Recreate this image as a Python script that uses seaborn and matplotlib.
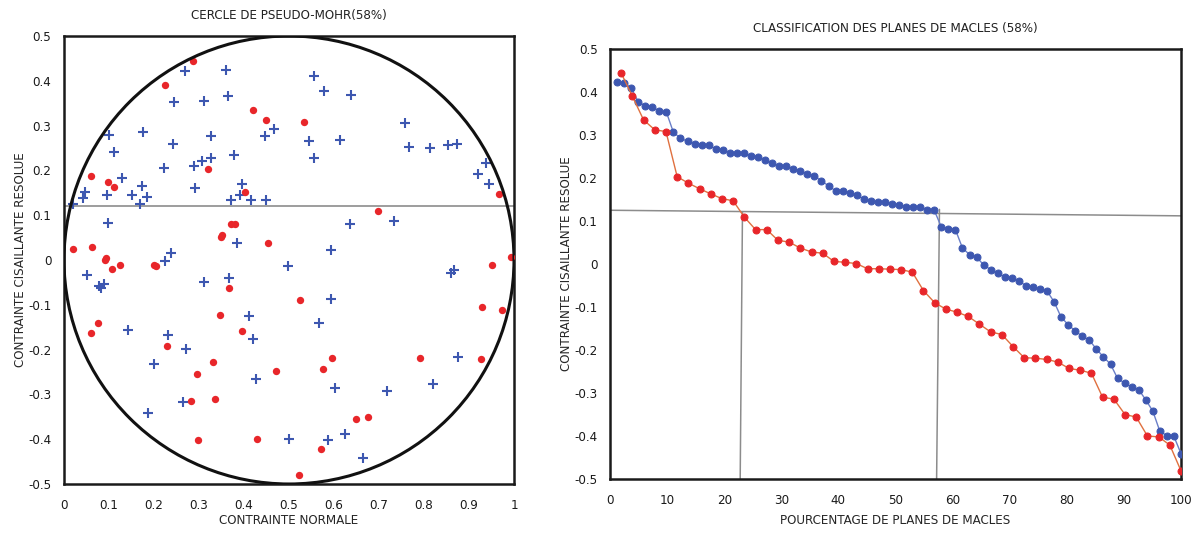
import numpy as np
import pandas as pd
import matplotlib.pyplot as plt
import seaborn as sns
from matplotlib.patches import Circle
from matplotlib.ticker import MultipleLocator, FuncFormatter


# plans maclés (points rouges) : contrainte normale / contrainte cisaillante résolue
red_sn = [0.287, 0.225, 0.419, 0.448, 0.533, 0.320, 0.061, 0.098, 0.112, 0.403,
          0.967, 0.697, 0.372, 0.379, 0.349, 0.352, 0.454, 0.063, 0.021, 0.993,
          0.093, 0.091, 0.125, 0.950, 0.204, 0.200, 0.107, 0.367, 0.524, 0.928,
          0.973, 0.347, 0.076, 0.395, 0.061, 0.228, 0.596, 0.792, 0.927, 0.330,
          0.576, 0.470, 0.296, 0.336, 0.282, 0.676, 0.649, 0.429, 0.298, 0.571,
          0.522]
red_tau = [0.444, 0.390, 0.335, 0.312, 0.308, 0.203, 0.188, 0.175, 0.163, 0.152,
           0.147, 0.109, 0.080, 0.080, 0.051, 0.055, 0.037, 0.028, 0.025, 0.006,
           0.004, 0.001, -0.011, -0.012, -0.013, -0.011, -0.019, -0.062, -0.090, -0.105,
           -0.112, -0.122, -0.140, -0.158, -0.164, -0.192, -0.218, -0.219, -0.222, -0.228,
           -0.243, -0.247, -0.254, -0.310, -0.314, -0.350, -0.356, -0.400, -0.402, -0.421,
           -0.481]

# plans non maclés (croix bleues)
blue_sn = [0.269, 0.361, 0.244, 0.310, 0.364, 0.100, 0.176, 0.327, 0.467, 0.446,
           0.242, 0.110, 0.377, 0.223, 0.289, 0.307, 0.327, 0.129, 0.173, 0.291,
           0.396, 0.391, 0.047, 0.042, 0.096, 0.150, 0.185, 0.169, 0.371, 0.415,
           0.448, 0.021, 0.098, 0.384, 0.238, 0.225, 0.497, 0.556, 0.577, 0.637,
           0.545, 0.613, 0.555, 0.758, 0.767, 0.813, 0.854, 0.873, 0.937, 0.921,
           0.945, 0.635, 0.733, 0.593, 0.050, 0.078, 0.088, 0.082, 0.310, 0.367,
           0.412, 0.419, 0.142, 0.230, 0.270, 0.201, 0.426, 0.264, 0.186, 0.861,
           0.866, 0.593, 0.566, 0.875, 0.603, 0.717, 0.819, 0.501, 0.587, 0.625,
           0.664]
blue_tau = [0.421, 0.423, 0.353, 0.355, 0.366, 0.280, 0.285, 0.277, 0.293, 0.277,
            0.259, 0.241, 0.234, 0.205, 0.209, 0.221, 0.228, 0.182, 0.166, 0.160,
            0.169, 0.145, 0.151, 0.138, 0.146, 0.144, 0.140, 0.126, 0.133, 0.133,
            0.133, 0.125, 0.082, 0.037, 0.016, -0.002, -0.013, 0.410, 0.377, 0.368,
            0.266, 0.267, 0.228, 0.306, 0.252, 0.249, 0.257, 0.259, 0.217, 0.193,
            0.170, 0.080, 0.086, 0.022, -0.033, -0.058, -0.054, -0.063, -0.050, -0.040,
            -0.124, -0.177, -0.156, -0.168, -0.198, -0.233, -0.266, -0.316, -0.342, -0.030,
            -0.022, -0.088, -0.141, -0.216, -0.286, -0.292, -0.277, -0.399, -0.401, -0.389,
            -0.441]

seuil_tau = 0.121

RED = "#e8262a"
BLUE = "#3d57b0"


def classement(tau):
    # contraintes triées + pourcentage cumulé de plans
    t = np.sort(np.array(tau))[::-1]
    n = len(t)
    return pd.DataFrame({"pct": np.arange(1, n + 1) * 100.0 / n, "tau": t})


def deco(ax):
    for s in ax.spines.values():
        s.set_linewidth(1.8)
        s.set_color("#1a1a1a")
    ax.tick_params(which="both", direction="out", width=1.5, colors="#1a1a1a",
                   labelsize=9.5, top=False, right=False)
    ax.tick_params(which="major", length=6, pad=3)
    ax.tick_params(which="minor", length=3.5)
    ax.tick_params(axis="x", which="major", pad=5)
    fmt = FuncFormatter(lambda v, p: "0" if abs(v) < 1e-9 else f"{v:g}")
    ax.xaxis.set_major_formatter(fmt)
    ax.yaxis.set_major_formatter(fmt)


sns.set_style("white")
plt.rcParams["font.family"] = ["DejaVu Sans"]
plt.rcParams["font.stretch"] = "condensed"
plt.rcParams["text.color"] = "#222222"

fig = plt.figure(figsize=(11.95, 5.33), dpi=100)
ax1 = fig.add_axes([64 / 1195, 49 / 533, 450 / 1195, 448 / 533])
ax2 = fig.add_axes([610 / 1195, 54 / 533, 571 / 1195, 430 / 533])

# cercle de pseudo-Mohr
mohr = pd.concat([
    pd.DataFrame({"sn": red_sn, "tau": red_tau, "type": "maclé"}),
    pd.DataFrame({"sn": blue_sn, "tau": blue_tau, "type": "non maclé"}),
])
sns.scatterplot(data=mohr[mohr["type"] == "non maclé"], x="sn", y="tau", marker="+",
                s=42, linewidth=1.5, color=BLUE, ax=ax1, zorder=3)
sns.scatterplot(data=mohr[mohr["type"] == "maclé"], x="sn", y="tau", marker="o",
                s=28, linewidth=0, color=RED, ax=ax1, zorder=4)
ax1.add_patch(Circle((0.5, 0.0), 0.5, fill=False, lw=2.2, ec="#111111", zorder=5))
ax1.axhline(seuil_tau, color="#8c8c8c", lw=1.2, zorder=2)
ax1.set_xlim(0, 1)
ax1.set_ylim(-0.5, 0.5)
ax1.xaxis.set_major_locator(MultipleLocator(0.1))
ax1.xaxis.set_minor_locator(MultipleLocator(0.05))
ax1.yaxis.set_major_locator(MultipleLocator(0.1))
ax1.yaxis.set_minor_locator(MultipleLocator(0.05))
deco(ax1)
ax1.set_title("CERCLE DE PSEUDO-MOHR(58%)", fontsize=9.5, pad=12)
ax1.set_xlabel("CONTRAINTE NORMALE", fontsize=9.5, labelpad=1)
ax1.set_ylabel("CONTRAINTE CISAILLANTE RESOLUE", fontsize=9.5, labelpad=1)

# classification des plans
cls_blue = classement(blue_tau)
cls_red = classement(red_tau)
sns.lineplot(data=cls_blue, x="pct", y="tau", color="#6a7fc8", lw=1.0, marker="o",
             markersize=5, markerfacecolor=BLUE, markeredgecolor=BLUE, ax=ax2, zorder=3)
sns.lineplot(data=cls_red, x="pct", y="tau", color="#e0703f", lw=1.0, marker="o",
             markersize=5, markerfacecolor=RED, markeredgecolor=RED, ax=ax2, zorder=4)
ax2.plot([0, 100], [0.125, 0.112], color="#8c8c8c", lw=1.1, zorder=2)
ax2.plot([22.8, 23.2], [-0.5, 0.121], color="#8c8c8c", lw=1.1, zorder=2)
ax2.plot([57.2, 57.7], [-0.5, 0.127], color="#8c8c8c", lw=1.1, zorder=2)
ax2.set_xlim(0, 100)
ax2.set_ylim(-0.5, 0.5)
ax2.xaxis.set_major_locator(MultipleLocator(10))
ax2.xaxis.set_minor_locator(MultipleLocator(5))
ax2.yaxis.set_major_locator(MultipleLocator(0.1))
ax2.yaxis.set_minor_locator(MultipleLocator(0.05))
deco(ax2)
ax2.set_title("CLASSIFICATION DES PLANES DE MACLES (58%)", fontsize=9.5, pad=12)
ax2.set_xlabel("POURCENTAGE DE PLANES DE MACLES", fontsize=9.5, labelpad=5)
ax2.set_ylabel("CONTRAINTE CISAILLANTE RESOLUE", fontsize=9.5, labelpad=1)

fig.savefig("out.png", dpi=100)
